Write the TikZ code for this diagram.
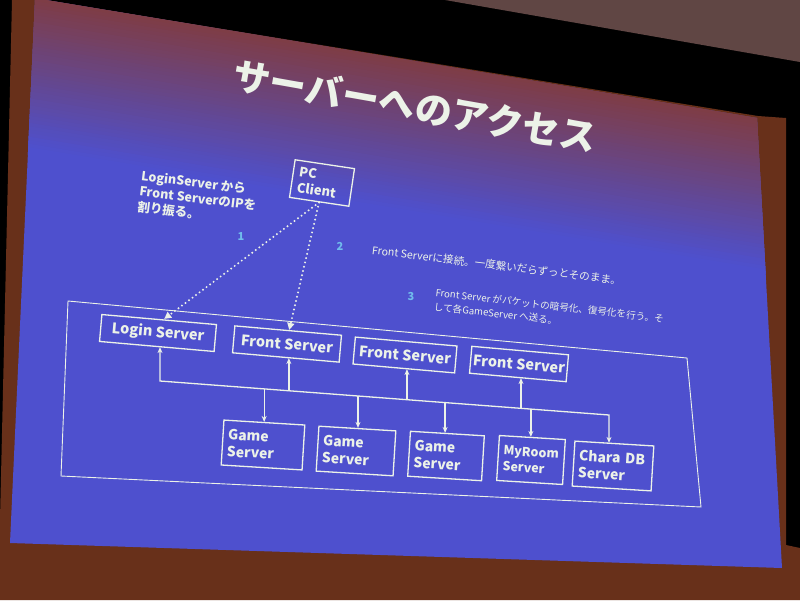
\documentclass[tikz,border=0pt]{standalone}
\usepackage{fontspec}
\setmainfont{Noto Sans CJK JP}
\usetikzlibrary{arrows.meta,calc}
\definecolor{slideblue}{RGB}{78,80,206}
\definecolor{slidetop}{RGB}{128,60,66}
\definecolor{screenbrown}{RGB}{104,48,26}
\definecolor{wallc}{RGB}{96,70,68}
\definecolor{inkc}{RGB}{236,242,232}
\definecolor{numc}{RGB}{112,188,236}
\begin{document}
\begin{tikzpicture}[x=1pt,y=-1pt]
\tikzset{
 srv/.style={draw=inkc, line width=1.3pt, text=inkc, font=\bfseries\fontsize{14.5}{17}\selectfont, inner sep=0pt, minimum height=27pt},
 gsrv/.style={draw=inkc, line width=1.3pt, text=inkc, font=\bfseries\fontsize{14}{17}\selectfont, align=left, inner xsep=5pt, inner ysep=0pt, minimum height=45pt, text width=#1},
 note/.style={text=inkc, font=\fontsize{10}{13}\selectfont, align=left, inner sep=0pt},
 num/.style={text=numc, font=\bfseries\fontsize{11}{13}\selectfont, inner sep=0pt},
 arr/.style={draw=inkc, line width=1.3pt, -{Stealth[length=6pt,width=5pt]}},
 arrboth/.style={draw=inkc, line width=1.3pt, {Stealth[length=6pt,width=5pt]}-{Stealth[length=6pt,width=5pt]}},
 dots/.style={draw=inkc, line width=2.2pt, dash pattern=on 0pt off 4.4pt, line cap=round, -{Triangle[length=7pt,width=7pt]}},
}
\useasboundingbox (0,0) rectangle (800,600);
% surroundings
\fill[black] (0,0) rectangle (800,600);
\fill[screenbrown] (12,0) -- (44,0) -- (758,116) -- (786,118) -- (786,545) -- (800,548) -- (800,600) -- (0,600) -- (0,520) -- cycle;
\fill[wallc] (445,0) -- (800,0) -- (800,62) -- cycle;
% slide
\begin{scope}
\clip (35,0) -- (46,0) -- (757,118) -- (782,568) -- (10,543) -- cycle;
\fill[slideblue] (0,0) rectangle (800,600);
\foreach \i in {0,...,44} {
  \pgfmathsetmacro\da{3.5*\i-4}
  \pgfmathsetmacro\db{3.5*\i+4}
  \pgfmathtruncatemacro\m{100*(1-\i/44)}
  \fill[slidetop!\m!slideblue] (-10,-9.3+\da) -- (810,126.8+\da) -- (810,126.8+\db) -- (-10,-9.3+\db) -- cycle;
}
\end{scope}
% title
\node[font=\bfseries\fontsize{37}{40}\selectfont, text=inkc, rotate=-10, inner sep=0pt] (title) at (415,106) {サーバーへのアクセス};
% notes
\node[note, font=\bfseries\fontsize{12.5}{15.5}\selectfont, anchor=north west, rotate=-7] (lnote) at (142,170) {LoginServer から\\Front ServerのIPを\\割り振る。};
\node[num] (n1) at (241,237) {1};
\node[num] (n2) at (340,246) {2};
\node[num] (n3) at (411,297) {3};
\node[note, font=\fontsize{10.6}{13}\selectfont, anchor=west, rotate=-7] (t2) at (372,250) {Front Serverに接続。一度繋いだらずっとそのまま。};
\node[note, font=\fontsize{9.6}{14}\selectfont, anchor=north west, rotate=-6.5] (t3) at (436,288) {Front Server がパケットの暗号化、復号化を行う。そ\\して各GameServer へ送る。};
% PC client
\node[srv, font=\bfseries\fontsize{13}{16}\selectfont, align=left, text width=48pt, inner xsep=6pt, minimum height=38pt, rotate=-8.5] (pc) at (322,183) {PC\\Client};
% container
\draw[draw=inkc, line width=0.9pt] (68,301) -- (687,358) -- (701,507) -- (61,476) -- cycle;
% top row
\node[srv, minimum width=115pt, rotate=-5] (login) at (158,333) {Login Server};
\node[srv, minimum width=107pt, rotate=-5] (fs1) at (287,344) {Front Server};
\node[srv, minimum width=102pt, rotate=-5] (fs2) at (405,355) {Front Server};
\node[srv, minimum width=97pt, rotate=-5] (fs3) at (519,364) {Front Server};
% bottom row
\node[gsrv=71pt, rotate=-3.5] (gs1) at (263,445) {Game\\Server};
\node[gsrv=67pt, rotate=-3.5] (gs2) at (356,451) {Game\\Server};
\node[gsrv=64pt, rotate=-3.5] (gs3) at (446,456) {Game\\Server};
\node[gsrv=56pt, font=\bfseries\fontsize{12.5}{16}\selectfont, rotate=-3.5] (myroom) at (531,460) {MyRoom\\Server};
\node[gsrv=69pt, rotate=-3.5] (chara) at (613,466) {Chara DB\\Server};
% bus
\coordinate (bL) at (160,381);
\coordinate (bR) at (609,415);
\coordinate (jF1) at ($(bL)!0.287!(bR)$);
\coordinate (jF2) at ($(bL)!0.550!(bR)$);
\coordinate (jF3) at ($(bL)!0.804!(bR)$);
\coordinate (jG1) at ($(bL)!0.232!(bR)$);
\coordinate (jG2) at ($(bL)!0.441!(bR)$);
\coordinate (jG3) at ($(bL)!0.635!(bR)$);
\coordinate (jM) at ($(bL)!0.826!(bR)$);
\draw[arrboth] (bL |- login.south) -- (bL) -- (bR) -- (bR |- chara.north);
\draw[arr] (jF1) -- (jF1 |- fs1.south);
\draw[arr] (jF2) -- (jF2 |- fs2.south);
\draw[arr] (jF3) -- (jF3 |- fs3.south);
\draw[arr] (jG1) -- (jG1 |- gs1.north);
\draw[arr] (jG2) -- (jG2 |- gs2.north);
\draw[arr] (jG3) -- (jG3 |- gs3.north);
\draw[arr] (jM) -- (jM |- myroom.north);
% dotted links
\draw[dots] (pc.south) -- ($(login.north)+(5,0)$);
\draw[dots] (pc.south) -- ($(fs1.north)+(1,0)$);
\end{tikzpicture}
\end{document}
